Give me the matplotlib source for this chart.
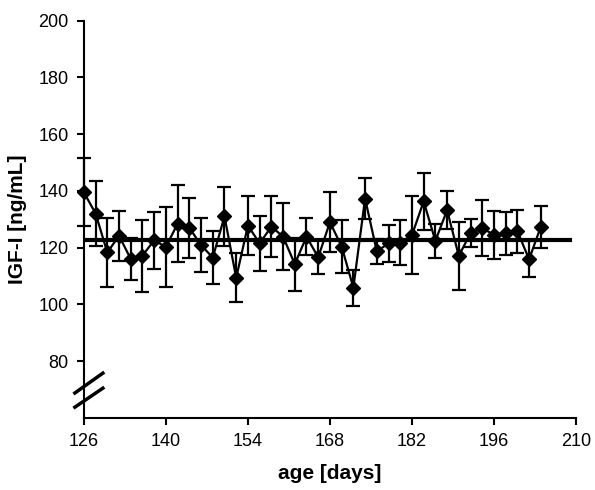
import numpy as np
import matplotlib
matplotlib.use("Agg")
import matplotlib.pyplot as plt

plt.rcParams['font.family'] = ['Liberation Sans', 'DejaVu Sans']

# age in days, mean IGF-I and SD
age = list(range(126, 206, 2))
igf = [139.5, 132.0, 118.3, 124.2, 116.0, 117.2, 122.6, 120.2, 128.5, 127.0,
       120.9, 116.5, 131.0, 109.4, 127.8, 121.5, 127.4, 123.9, 114.2, 123.9,
       116.6, 129.0, 120.4, 105.9, 137.3, 118.7, 121.5, 121.8, 124.4, 136.3,
       122.4, 133.2, 117.1, 125.1, 126.9, 124.5, 125.0, 125.8, 115.9, 127.4]
sd = [12.0, 11.5, 12.0, 8.8, 7.5, 12.7, 10.0, 14.0, 13.5, 10.5,
      9.5, 9.4, 10.5, 8.6, 10.5, 9.6, 10.7, 11.7, 9.3, 6.6,
      6.0, 10.7, 9.3, 6.3, 7.2, 4.3, 6.6, 7.9, 13.7, 10.0,
      6.0, 6.8, 12.0, 5.0, 10.0, 8.5, 7.6, 7.6, 6.4, 7.4]
mean_igf = 122.8

fig = plt.figure(figsize=(5.95, 4.9), dpi=100)
ax = fig.add_axes([0.141, 0.147, 0.827, 0.811])

ax.errorbar(age, igf, yerr=sd, color='black', lw=1.6, marker='D', ms=7,
            capsize=5, capthick=1.6, elinewidth=1.6, clip_on=False, zorder=3)
ax.plot([126.5, 209], [mean_igf, mean_igf], color='black', lw=3, zorder=4)

ax.set_xlim(126, 210)
ax.set_ylim(60, 200)
ax.set_xticks(range(126, 211, 14))
ax.set_yticks(range(80, 201, 20))

for s in ['top', 'right']:
    ax.spines[s].set_visible(False)
for s in ['left', 'bottom']:
    ax.spines[s].set_linewidth(1.5)
ax.tick_params(direction='out', length=5, width=1.5, labelsize=13, pad=6)

# axis break marks
for y0, y1 in [(68.8, 75.8), (63.8, 70.5)]:
    ax.plot([124.46, 129.24], [y0, y1], color='black', lw=2.5,
            clip_on=False, zorder=5)

ax.set_xlabel('age [days]', fontsize=15, fontweight='bold', labelpad=10)
ax.set_ylabel('IGF-I [ng/mL]', fontsize=15, fontweight='bold', labelpad=8)

fig.savefig('out.png', dpi=100)
